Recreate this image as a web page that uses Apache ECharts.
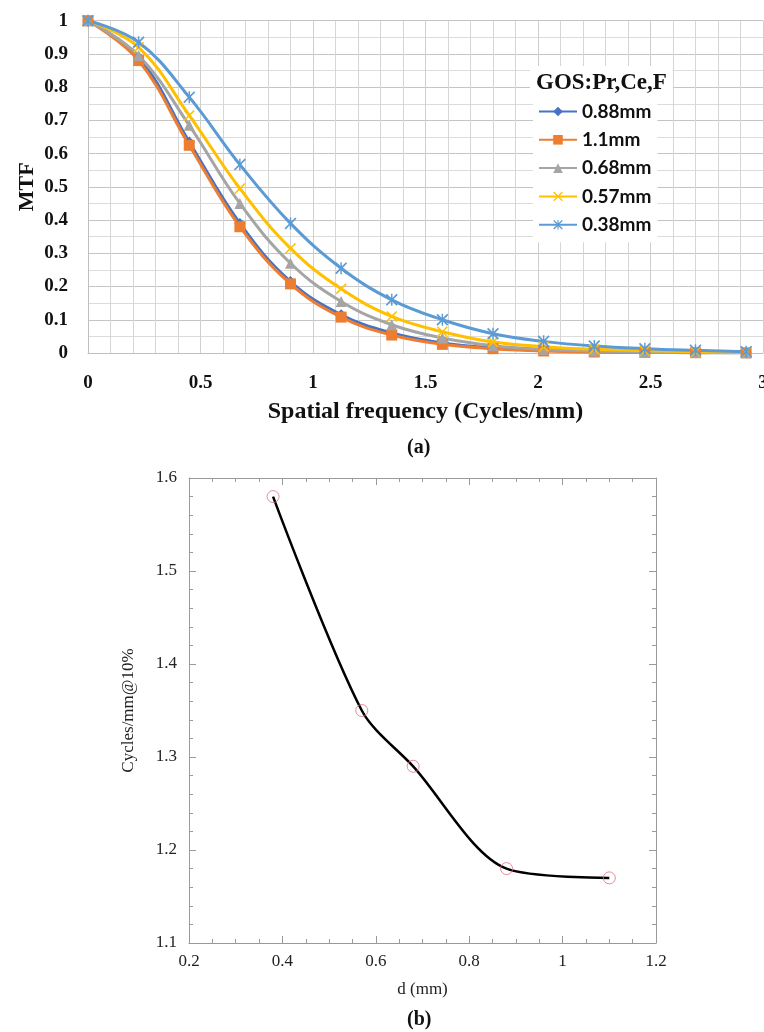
<!DOCTYPE html>
<html>
<head>
<meta charset="utf-8">
<script src="https://cdn.jsdelivr.net/npm/echarts@6/dist/echarts.min.js"></script>
<style>
  html, body { margin: 0; padding: 0; background: #fff; }
  #chart { width: 764px; height: 1032px; }
</style>
</head>
<body>
<div id="chart"></div>
<script>
// (a) MTF curves, spatial frequency in cycles/mm
const freq = [0, 0.225, 0.45, 0.675, 0.9, 1.125, 1.35, 1.575, 1.8, 2.025, 2.25, 2.475, 2.7, 2.925];
const mtf088 = [1, 0.89, 0.635, 0.39, 0.215, 0.115, 0.06, 0.03, 0.015, 0.008, 0.004, 0.002, 0.001, 0.001];
const mtf110 = [1, 0.88, 0.625, 0.38, 0.208, 0.108, 0.054, 0.026, 0.013, 0.006, 0.003, 0.002, 0.001, 0.0005];
const mtf068 = [1, 0.895, 0.685, 0.45, 0.27, 0.155, 0.085, 0.045, 0.022, 0.011, 0.006, 0.003, 0.002, 0.001];
const mtf057 = [1, 0.92, 0.715, 0.495, 0.315, 0.193, 0.11, 0.064, 0.033, 0.019, 0.011, 0.007, 0.004, 0.002];
const mtf038 = [1, 0.935, 0.77, 0.567, 0.39, 0.255, 0.16, 0.1, 0.058, 0.035, 0.021, 0.013, 0.008, 0.004];
const seriesNames = ['0.88mm', '1.1mm', '0.68mm', '0.57mm', '0.38mm'];

// (b) frequency at 10% MTF versus screen thickness
const thickness = [0.38, 0.57, 0.68, 0.88, 1.1];
const freqAt10 = [1.58, 1.35, 1.29, 1.18, 1.17];

const SERIF = '"Liberation Serif", "Times New Roman", serif';
const SANS = 'Lato, "Open Sans", sans-serif';

const crossPath = 'path://M1,0 L5,4 L9,0 L10,1 L6,5 L10,9 L9,10 L5,6 L1,10 L0,9 L4,5 L0,1 Z';
const starPath = crossPath + ' M4.4,0 L5.6,0 L5.6,10 L4.4,10 Z';

function pairs(xs, ys) { return xs.map((x, i) => [x, ys[i]]); }

function mtfSeries(name, values, color, symbol, size) {
  return {
    name: name,
    type: 'line',
    xAxisIndex: 0,
    yAxisIndex: 0,
    data: pairs(freq, values),
    smooth: 0.4,
    symbol: symbol,
    symbolSize: size,
    showSymbol: true,
    lineStyle: { color: color, width: 3 },
    itemStyle: { color: color, borderWidth: 0 },
    emphasis: { disabled: true },
    animation: false
  };
}

function caption(letter, top) {
  return {
    text: '{p|(}{b|' + letter + '}{p|)}',
    left: 402, top: top,
    textStyle: {
      rich: {
        p: { fontFamily: SERIF, fontSize: 20, color: '#111' },
        b: { fontFamily: SERIF, fontSize: 20, fontWeight: 'bold', color: '#111' }
      }
    }
  };
}

const chart = echarts.init(document.getElementById('chart'), null, { renderer: 'canvas' });

const option = {
  backgroundColor: '#ffffff',
  animation: false,
  title: [
    {
      text: 'GOS:Pr,Ce,F',
      left: 530, top: 66,
      padding: [6, 6, 5, 6],
      backgroundColor: '#ffffff',
      textStyle: { fontFamily: SERIF, fontWeight: 'bold', fontSize: 23, color: '#111' }
    },
    caption('a', 433),
    caption('b', 1005)
  ],
  legend: {
    data: seriesNames,
    orient: 'vertical',
    left: 533, top: 100,
    padding: [2, 6, 8, 5],
    itemWidth: 38, itemHeight: 12, itemGap: 9.3,
    backgroundColor: '#ffffff',
    selectedMode: false,
    textStyle: { fontFamily: SANS, fontWeight: 'bold', fontSize: 19, lineHeight: 18, color: '#111' }
  },
  grid: [
    { left: 88, right: 1, top: 20.7, bottom: 679, containLabel: false, outerBoundsMode: 'none' },
    { left: 189, right: 108, top: 478, bottom: 89, containLabel: false, outerBoundsMode: 'none' }
  ],
  xAxis: [
    {
      gridIndex: 0, type: 'value', min: 0, max: 3, interval: 0.5,
      name: 'Spatial frequency (Cycles/mm)', nameLocation: 'middle', nameGap: 47,
      nameTextStyle: { fontFamily: SERIF, fontWeight: 'bold', fontSize: 24, color: '#111' },
      axisLine: { show: true, lineStyle: { color: '#bfbfbf', width: 1 } },
      axisTick: { show: false },
      minorTick: { show: false, splitNumber: 5 },
      axisLabel: { fontFamily: SERIF, fontWeight: 'bold', fontSize: 19, color: '#111', margin: 21 },
      splitLine: { show: true, lineStyle: { color: '#cfcfcf', width: 1 } },
      minorSplitLine: { show: true, lineStyle: { color: '#d6d6d6', width: 1 } }
    },
    {
      gridIndex: 1, type: 'value', min: 0.2, max: 1.2, interval: 0.2,
      name: 'd (mm)', nameLocation: 'middle', nameGap: 38,
      nameTextStyle: { fontFamily: SERIF, fontSize: 17, color: '#222' },
      axisLine: { show: true, onZero: false, lineStyle: { color: '#9a9a9a', width: 1 } },
      axisTick: { show: true, inside: true, length: 7, lineStyle: { color: '#9a9a9a' } },
      minorTick: { show: true, splitNumber: 4, length: 4, lineStyle: { color: '#9a9a9a' } },
      axisLabel: { fontFamily: SERIF, fontSize: 17, color: '#222', margin: 10 },
      splitLine: { show: false }
    },
    {
      gridIndex: 1, type: 'value', min: 0.2, max: 1.2, interval: 0.2, position: 'top',
      axisLine: { show: true, onZero: false, lineStyle: { color: '#9a9a9a', width: 1 } },
      axisTick: { show: true, inside: true, length: 7, lineStyle: { color: '#9a9a9a' } },
      minorTick: { show: true, splitNumber: 4, length: 4, lineStyle: { color: '#9a9a9a' } },
      axisLabel: { show: false },
      splitLine: { show: false }
    }
  ],
  yAxis: [
    {
      gridIndex: 0, type: 'value', min: 0, max: 1, interval: 0.1,
      name: 'MTF', nameLocation: 'middle', nameGap: 50, nameMoveOverlap: false,
      nameTextStyle: { fontFamily: SERIF, fontWeight: 'bold', fontSize: 22, color: '#111' },
      axisLine: { show: true, lineStyle: { color: '#bfbfbf', width: 1 } },
      axisTick: { show: false },
      minorTick: { show: false, splitNumber: 2 },
      axisLabel: { fontFamily: SERIF, fontWeight: 'bold', fontSize: 19, color: '#111', margin: 20 },
      splitLine: { show: true, lineStyle: { color: '#c4c4c4', width: 1 } },
      minorSplitLine: { show: true, lineStyle: { color: '#dcdcdc', width: 1 } }
    },
    {
      gridIndex: 1, type: 'value', min: 1.1, max: 1.6, interval: 0.1,
      name: 'Cycles/mm@10%', nameLocation: 'middle', nameGap: 52,
      nameTextStyle: { fontFamily: SERIF, fontSize: 17, color: '#222' },
      axisLine: { show: true, onZero: false, lineStyle: { color: '#9a9a9a', width: 1 } },
      axisTick: { show: true, inside: true, length: 7, lineStyle: { color: '#9a9a9a' } },
      minorTick: { show: true, splitNumber: 5, length: 4, lineStyle: { color: '#9a9a9a' } },
      axisLabel: { fontFamily: SERIF, fontSize: 17, color: '#222', margin: 12 },
      splitLine: { show: false }
    },
    {
      gridIndex: 1, type: 'value', min: 1.1, max: 1.6, interval: 0.1, position: 'right',
      axisLine: { show: true, onZero: false, lineStyle: { color: '#9a9a9a', width: 1 } },
      axisTick: { show: true, inside: true, length: 7, lineStyle: { color: '#9a9a9a' } },
      minorTick: { show: true, splitNumber: 5, length: 4, lineStyle: { color: '#9a9a9a' } },
      axisLabel: { show: false },
      splitLine: { show: false }
    }
  ],
  series: [
    mtfSeries(seriesNames[0], mtf088, '#4472C4', 'diamond', 11),
    mtfSeries(seriesNames[1], mtf110, '#ED7D31', 'rect', 11),
    mtfSeries(seriesNames[2], mtf068, '#A5A5A5', 'triangle', 11),
    mtfSeries(seriesNames[3], mtf057, '#FFC000', crossPath, 11),
    mtfSeries(seriesNames[4], mtf038, '#5B9BD5', starPath, 12),
    {
      type: 'line',
      xAxisIndex: 1, yAxisIndex: 1,
      data: pairs(thickness, freqAt10),
      smooth: 0.3,
      showSymbol: false,
      lineStyle: { color: '#000', width: 2.5 },
      emphasis: { disabled: true },
      animation: false
    },
    {
      type: 'scatter',
      xAxisIndex: 1, yAxisIndex: 1,
      data: pairs(thickness, freqAt10),
      symbol: 'circle',
      symbolSize: 12,
      itemStyle: { color: 'rgba(0,0,0,0)', borderColor: '#e0707e', borderWidth: 1 },
      emphasis: { disabled: true },
      z: 3,
      animation: false
    }
  ]
};

chart.setOption(option);
</script>
</body>
</html>
